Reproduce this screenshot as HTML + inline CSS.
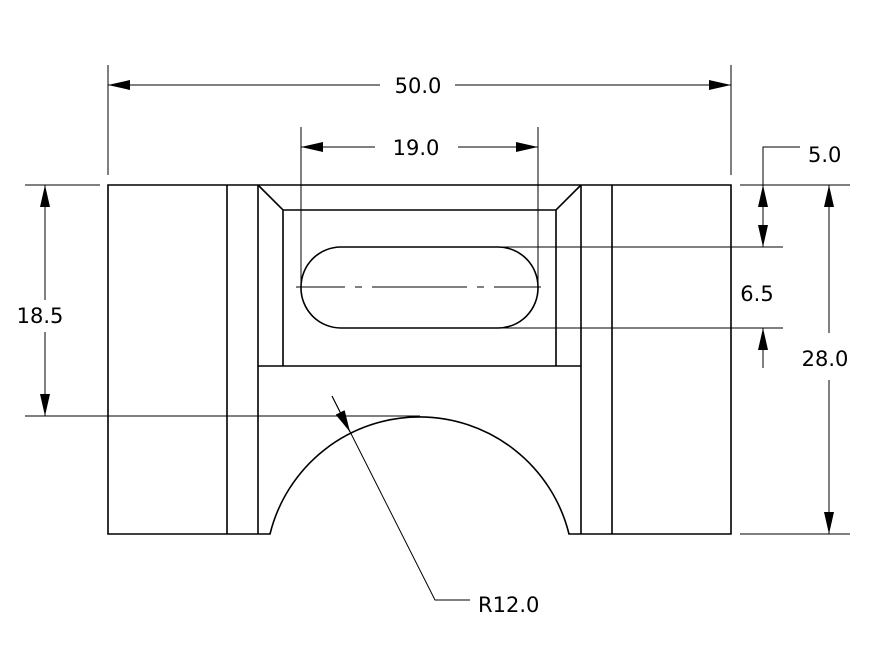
<!DOCTYPE html>
<html><head><style>body{margin:0;background:#fff}svg{display:block}text{font-family:"DejaVu Sans","Liberation Sans",sans-serif;font-size:21px;fill:#000}</style></head><body>
<svg width="890" height="667" viewBox="0 0 890 667" xmlns="http://www.w3.org/2000/svg">
<defs><marker id="a" viewBox="0 0 22 10" refX="22" refY="5" markerWidth="22" markerHeight="10" markerUnits="userSpaceOnUse" orient="auto-start-reverse"><path d="M0,0 L22,5 L0,10z" fill="#000"/></marker></defs>
<g fill="none" stroke="#000" stroke-width="1.6">
<path d="M108,185 H731 V534 H569 A154,154 0 0 0 270,534 H108 Z"/>
<path d="M227,185 V534 M258,185 V534 M612,185 V534 M581,185 V534"/>
<path d="M258,185 L283,210 H556 L581,185 M283,210 V366 M556,210 V366 M258,366 H581"/>
<rect x="301" y="247" width="237" height="81" rx="40" ry="40"/>
</g>
<g fill="none" stroke="#000" stroke-width="1">
<path d="M296,287 H345 M355,287 H362 M372,287 H467 M477,287 H484 M494,287 H541"/>
<path d="M108,65 V175 M731,65 V175"/>
<line x1="108" y1="85" x2="380" y2="85" marker-start="url(#a)"/><line x1="455" y1="85" x2="731" y2="85" marker-end="url(#a)"/>
<path d="M301,127 V290 M538,127 V290"/>
<line x1="301" y1="147" x2="375" y2="147" marker-start="url(#a)"/><line x1="458" y1="147" x2="538" y2="147" marker-end="url(#a)"/>
<path d="M25,185 H100 M25,416 H420"/>
<line x1="45" y1="185" x2="45" y2="300" marker-start="url(#a)"/><line x1="45" y1="332" x2="45" y2="416" marker-end="url(#a)"/>
<path d="M740,185 H850 M740,534 H850 M500,247 H783 M500,328 H783"/>
<path d="M800,147 H763 V185"/>
<line x1="763" y1="185" x2="763" y2="247" marker-start="url(#a)" marker-end="url(#a)"/>
<line x1="763" y1="368" x2="763" y2="328" marker-end="url(#a)"/>
<line x1="829" y1="185" x2="829" y2="333" marker-start="url(#a)"/><line x1="829" y1="380" x2="829" y2="534" marker-end="url(#a)"/>
<path d="M332,396 L435,600 H470"/>
<line x1="332" y1="396" x2="350" y2="432" marker-end="url(#a)"/>
</g>
<text x="418" y="93" text-anchor="middle">50.0</text>
<text x="416" y="155" text-anchor="middle">19.0</text>
<text x="40" y="323" text-anchor="middle">18.5</text>
<text x="808" y="162">5.0</text>
<text x="757" y="301" text-anchor="middle">6.5</text>
<text x="825" y="366" text-anchor="middle">28.0</text>
<text x="478" y="612">R12.0</text>
</svg>
</body></html>
